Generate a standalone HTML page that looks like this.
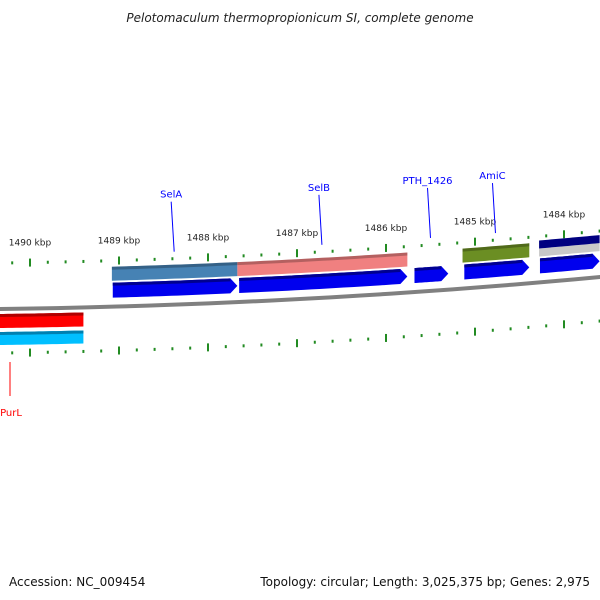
<!DOCTYPE html>
<html><head><meta charset="utf-8"><style>
body{margin:0;background:#fff}
svg{display:block;font-family:"DejaVu Sans","Liberation Sans",sans-serif}
</style></head><body>
<svg id="c" width="600" height="600" viewBox="0 0 600 600">
<text x="300" y="22" text-anchor="middle" font-size="12" font-style="italic" fill="#222">Pelotomaculum thermopropionicum SI, complete genome</text>
<text x="9" y="586" font-size="12" fill="#111">Accession: NC_009454</text>
<text x="590" y="586" text-anchor="end" font-size="12" fill="#111">Topology: circular; Length: 3,025,375 bp; Genes: 2,975</text>
</svg>
<script>
const majorTicks=[1490,1489,1488,1487,1486,1485,1484];
const featStart=[1489.08,1487.67,1485.73,1485.14,1484.28];
const featEnd=[1487.67,1485.76,1485.24,1484.39,1483.6];
const featColor=['#4682b4','#f08080','#0000ee','#6b8e23','#000080'];
const featLane=['top','top','none','top','top'];
const arrowStart=[1489.07,1487.65,1485.68,1485.12,1484.27];
const arrowEnd=[1487.67,1485.76,1485.3,1484.39,1483.6];
const labelNames=['SelA','SelB','PTH_1426','AmiC'];
const labelPos=[1488.38,1486.72,1485.5,1484.77];
const revStart=[1490.4];const revEnd=[1489.4];
const svg=document.getElementById('c');const NS='http://www.w3.org/2000/svg';
const X=k=>30+(1490-k)*89;
const Y=(x,off)=>308.7-off-Math.pow(x+100,2)/15000;
function el(t,a){const e=document.createElementNS(NS,t);for(const k in a)e.setAttribute(k,a[k]);svg.appendChild(e);return e;}
function band(x1,x2,o1,o2,tip){const p=[];const n=20;for(let i=0;i<=n;i++){const x=x1+(x2-x1)*i/n;p.push(x+','+Y(x,o2));}
 if(tip){const m=(o1+o2)/2;p.push((x2+7)+','+Y(x2,m));}
 for(let i=n;i>=0;i--){const x=x1+(x2-x1)*i/n;p.push(x+','+Y(x,o1));}return p.join(' ');}
let bb=el('polygon',{points:band(-5,605,-3,1),fill:'#808080'});

for(let k=1490.4;k>=1483.3;k-=0.2){const kk=Math.round(k*10)/10;const x=X(kk);const maj=Math.abs(kk-Math.round(kk))<0.01;
 for(const side of [1,-1]){const o=45*side;const len=maj?8:3;
  const t=el('line',{x1:x,x2:x,y1:Y(x,o)-len/2,y2:Y(x,o)+len/2,stroke:'#228b22','stroke-width':2});
  }}
majorTicks.forEach(k=>{const x=X(k);const t=el('text',{x:x,y:Y(x,62),'text-anchor':'middle','font-size':9,fill:'#222'});t.textContent=k+' kbp';
 });
featStart.forEach((s,i)=>{const x1=X(s),x2=Math.min(X(featEnd[i]),605);
 if(featLane[i]==='top'){
  if(i===4){const gb=el('polygon',{points:band(x1,x2,25,33),fill:'#c8c8c8'});
   const g=el('polygon',{points:band(x1,x2,33,41),fill:featColor[i]});}
  else{const g=el('polygon',{points:band(x1,x2,25,39),fill:featColor[i]});
  
  el('polygon',{points:band(x1,x2,36,39),fill:'rgba(0,0,0,0.25)'});}}
 const a1=X(arrowStart[i]),a2=X(arrowEnd[i]);const tip=a2<600;
 const ar=el('polygon',{points:band(a1,tip?a2-7:605,8,23,tip),fill:'#0000ee'});
 
 el('polygon',{points:band(a1,tip?a2-7:605,20,23),fill:'#000090'});});
revStart.forEach((s,i)=>{const x1=X(s),x2=X(revEnd[i]);
 const r=el('polygon',{points:band(x1,x2,-20,-6),fill:'#ff0000'});
 el('polygon',{points:band(x1,x2,-9,-6),fill:'#b00000'});
 const c=el('polygon',{points:band(x1,x2,-37,-24),fill:'#00bfff'});
 el('polygon',{points:band(x1,x2,-27,-24),fill:'#0080b0'});});
labelNames.forEach((n,i)=>{const x=X(labelPos[i]);const yb=Y(x,52);const yt=yb-50;
 const l=el('line',{x1:x,y1:yb,x2:x-3,y2:yt,stroke:'#0000ff','stroke-width':1});
 const t=el('text',{x:x-3,y:yt-4,'text-anchor':'middle','font-size':10,fill:'#0000ff'});t.textContent=n;
 });
const pl=el('line',{x1:10,y1:362,x2:10,y2:396,stroke:'#ff0000','stroke-width':1});
const pt=el('text',{x:11,y:416,'text-anchor':'middle','font-size':10,fill:'#ff0000'});pt.textContent='PurL';

</script>
</body></html>
